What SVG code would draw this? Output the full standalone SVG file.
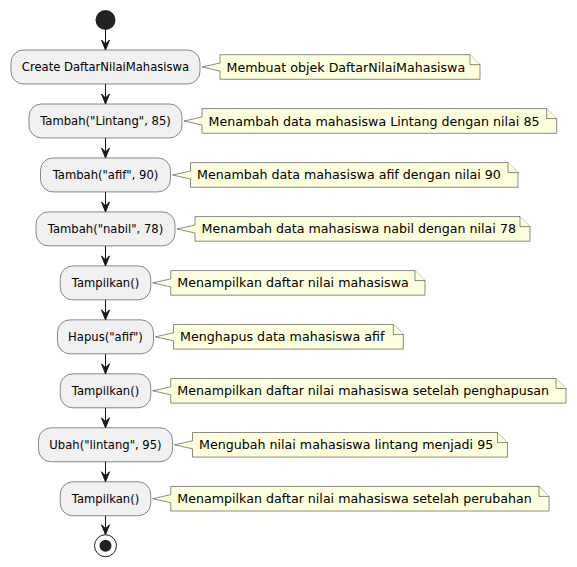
<svg xmlns="http://www.w3.org/2000/svg" width="577" height="567" viewBox="0 0 577 567">
<style>
.node rect{fill:#F1F1F1;stroke:#181818;stroke-width:0.5}
.node text{font-family:"DejaVu Sans",sans-serif;font-size:11.6px;fill:#000000;text-anchor:middle}
.note path{fill:#FEFFDD;stroke:#181818;stroke-width:0.5}
.note text{font-family:"DejaVu Sans",sans-serif;font-size:12.65px;fill:#000000}
.conn line{stroke:#181818;stroke-width:1}
.conn polygon{fill:#181818;stroke:#181818;stroke-width:1}
</style>
<rect width="577" height="567" fill="#FFFFFF"/>
<g id="start"><circle cx="105.5" cy="20" r="10" fill="#222222"/></g>
<g id="end"><circle cx="105.5" cy="545.73" r="11" fill="none" stroke="#222222" stroke-width="1"/><circle cx="105.5" cy="545.73" r="6" fill="#222222"/></g>

<g id="n1" class="node"><rect x="11" y="50" width="189" height="33.97" rx="12.5"/><text x="105.5" y="71.2">Create DaftarNilaiMahasiswa</text></g>
<g id="n2" class="node"><rect x="29" y="103.97" width="153" height="33.97" rx="12.5"/><text x="105.5" y="125.2">Tambah("Lintang", 85)</text></g>
<g id="n3" class="node"><rect x="40.5" y="157.94" width="130" height="33.97" rx="12.5"/><text x="105.5" y="179.1">Tambah("afif", 90)</text></g>
<g id="n4" class="node"><rect x="36" y="211.91" width="139" height="33.97" rx="12.5"/><text x="105.5" y="233.1">Tambah("nabil", 78)</text></g>
<g id="n5" class="node"><rect x="60.25" y="265.88" width="90.5" height="33.97" rx="12.5"/><text x="105.5" y="287.1">Tampilkan()</text></g>
<g id="n6" class="node"><rect x="57.5" y="319.85" width="96" height="33.97" rx="12.5"/><text x="105.5" y="341.0">Hapus("afif")</text></g>
<g id="n7" class="node"><rect x="60.25" y="373.82" width="90.5" height="33.97" rx="12.5"/><text x="105.5" y="395.0">Tampilkan()</text></g>
<g id="n8" class="node"><rect x="38.5" y="427.79" width="134" height="33.97" rx="12.5"/><text x="105.5" y="449.0">Ubah("lintang", 95)</text></g>
<g id="n9" class="node"><rect x="60.25" y="481.76" width="90.5" height="33.97" rx="12.5"/><text x="105.5" y="502.9">Tampilkan()</text></g>

<g id="note1" class="note"><path d="M220,54.7 L220,63 L202,67 L220,71 L220,79.3 L480,79.3 L480,64.7 L470,54.7 Z"/><path d="M470,54.7 L470,64.7 L480,64.7"/><text x="226.5" y="71.6">Membuat objek DaftarNilaiMahasiswa</text></g>
<g id="note2" class="note"><path d="M202,108.6 L202,117 L184,121 L202,125 L202,133.3 L556.7,133.3 L556.7,118.6 L546.7,108.6 Z"/><path d="M546.7,108.6 L546.7,118.6 L556.7,118.6"/><text x="208.5" y="125.5">Menambah data mahasiswa Lintang dengan nilai 85</text></g>
<g id="note3" class="note"><path d="M190.5,162.6 L190.5,171 L172.5,175 L190.5,179 L190.5,187.3 L518,187.3 L518,172.6 L508,162.6 Z"/><path d="M508,162.6 L508,172.6 L518,172.6"/><text x="197" y="179.4">Menambah data mahasiswa afif dengan nilai 90</text></g>
<g id="note4" class="note"><path d="M195,216.6 L195,225 L177,229 L195,233 L195,241.2 L530,241.2 L530,226.6 L520,216.6 Z"/><path d="M520,216.6 L520,226.6 L530,226.6"/><text x="201.5" y="233.4">Menambah data mahasiswa nabil dengan nilai 78</text></g>
<g id="note5" class="note"><path d="M170.75,270.6 L170.75,278.9 L152.75,282.9 L170.75,286.9 L170.75,295.2 L425,295.2 L425,280.6 L415,270.6 Z"/><path d="M415,270.6 L415,280.6 L425,280.6"/><text x="177.25" y="287.4">Menampilkan daftar nilai mahasiswa</text></g>
<g id="note6" class="note"><path d="M173.5,324.5 L173.5,332.8 L155.5,336.8 L173.5,340.8 L173.5,349.1 L403.3,349.1 L403.3,334.5 L393.3,324.5 Z"/><path d="M393.3,324.5 L393.3,334.5 L403.3,334.5"/><text x="180" y="341.3">Menghapus data mahasiswa afif</text></g>
<g id="note7" class="note"><path d="M170.75,378.5 L170.75,386.8 L152.75,390.8 L170.75,394.8 L170.75,403.1 L566,403.1 L566,388.5 L556,378.5 Z"/><path d="M556,378.5 L556,388.5 L566,388.5"/><text x="177.25" y="395.3">Menampilkan daftar nilai mahasiswa setelah penghapusan</text></g>
<g id="note8" class="note"><path d="M192.5,432.5 L192.5,440.8 L174.5,444.8 L192.5,448.8 L192.5,457.1 L507.5,457.1 L507.5,442.5 L497.5,432.5 Z"/><path d="M497.5,432.5 L497.5,442.5 L507.5,442.5"/><text x="199" y="449.3">Mengubah nilai mahasiswa lintang menjadi 95</text></g>
<g id="note9" class="note"><path d="M170.75,486.4 L170.75,494.7 L152.75,498.7 L170.75,502.7 L170.75,511 L549,511 L549,496.4 L539,486.4 Z"/><path d="M539,486.4 L539,496.4 L549,496.4"/><text x="177.25" y="503.2">Menampilkan daftar nilai mahasiswa setelah perubahan</text></g>

<g id="connectors" class="conn">
<line x1="105.5" y1="30" x2="105.5" y2="50"/><polygon points="101.5,40 105.5,50 109.5,40 105.5,44"/>
<line x1="105.5" y1="83.97" x2="105.5" y2="103.97"/><polygon points="101.5,93.97 105.5,103.97 109.5,93.97 105.5,97.97"/>
<line x1="105.5" y1="137.94" x2="105.5" y2="157.94"/><polygon points="101.5,147.94 105.5,157.94 109.5,147.94 105.5,151.94"/>
<line x1="105.5" y1="191.91" x2="105.5" y2="211.91"/><polygon points="101.5,201.91 105.5,211.91 109.5,201.91 105.5,205.91"/>
<line x1="105.5" y1="245.88" x2="105.5" y2="265.88"/><polygon points="101.5,255.88 105.5,265.88 109.5,255.88 105.5,259.88"/>
<line x1="105.5" y1="299.85" x2="105.5" y2="319.85"/><polygon points="101.5,309.85 105.5,319.85 109.5,309.85 105.5,313.85"/>
<line x1="105.5" y1="353.82" x2="105.5" y2="373.82"/><polygon points="101.5,363.82 105.5,373.82 109.5,363.82 105.5,367.82"/>
<line x1="105.5" y1="407.79" x2="105.5" y2="427.79"/><polygon points="101.5,417.79 105.5,427.79 109.5,417.79 105.5,421.79"/>
<line x1="105.5" y1="461.76" x2="105.5" y2="481.76"/><polygon points="101.5,471.76 105.5,481.76 109.5,471.76 105.5,475.76"/>
<line x1="105.5" y1="515.73" x2="105.5" y2="534.73"/><polygon points="101.5,524.73 105.5,534.73 109.5,524.73 105.5,528.73"/>
</g>
</svg>
